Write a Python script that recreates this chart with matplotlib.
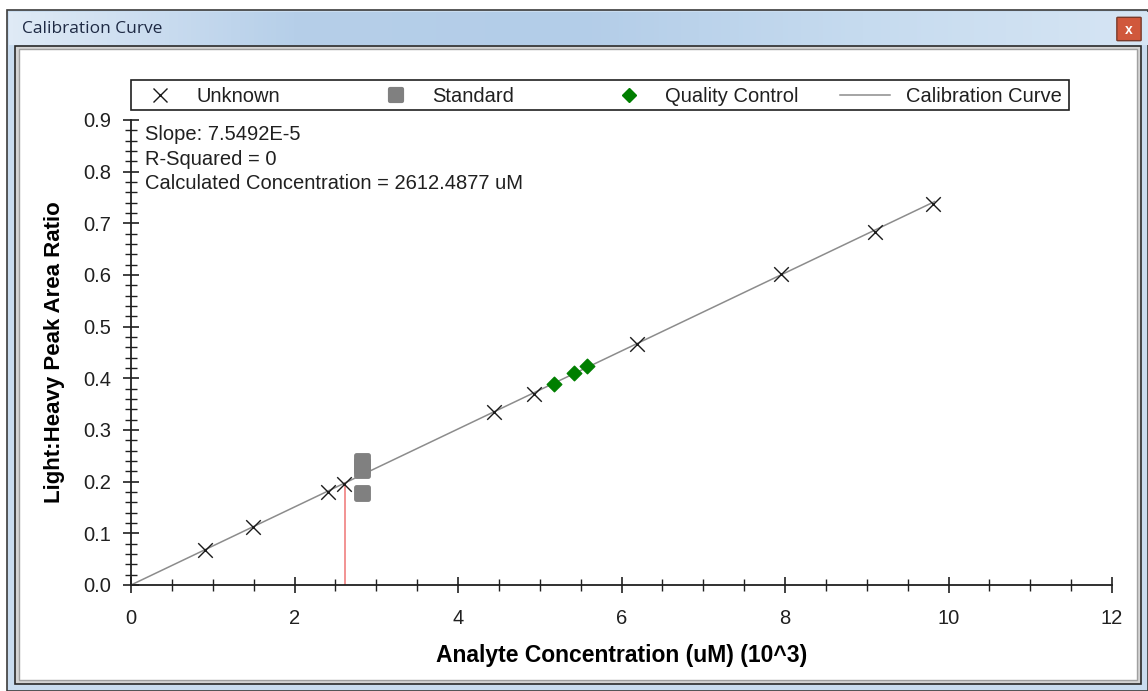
import matplotlib
matplotlib.use("Agg")
import matplotlib.pyplot as plt
import numpy as np
from matplotlib.patches import Rectangle, FancyBboxPatch
from matplotlib.lines import Line2D
from matplotlib.markers import MarkerStyle
from matplotlib.ticker import MultipleLocator
from matplotlib.colors import LinearSegmentedColormap

plt.rcParams['font.family'] = ['Liberation Sans', 'DejaVu Sans']

# ---- data (x in 10^3 uM) ----
unknown_x = [0.905, 1.49, 2.41, 2.61, 4.44, 4.93, 6.19, 7.95, 9.10, 9.81]
unknown_y = [0.068, 0.112, 0.180, 0.196, 0.334, 0.369, 0.466, 0.601, 0.684, 0.738]
standard_x = [2.83, 2.83, 2.83, 2.83]
standard_y = [0.240, 0.230, 0.222, 0.178]
qc_x = [5.17, 5.42, 5.58]
qc_y = [0.390, 0.410, 0.423]
slope = 0.075492          # per 10^3 uM (7.5492E-5 per uM)
curve_x = [0.0, 9.83]
calc_conc = 2.6124877     # 10^3 uM
x_ticks = [0, 2, 4, 6, 8, 10, 12]
y_ticks = [0.0, 0.1, 0.2, 0.3, 0.4, 0.5, 0.6, 0.7, 0.8, 0.9]
legend_labels = ["Unknown", "Standard", "Quality Control", "Calibration Curve"]
info_lines = ["Slope: 7.5492E-5", "R-Squared = 0", "Calculated Concentration = 2612.4877 uM"]

W, H = 1148, 691
fig = plt.figure(figsize=(W / 100, H / 100), dpi=100)

def fx(px):
    return px / W

def fy(py):
    return 1 - py / H

# ---- window chrome ----
fig.patches.append(Rectangle((0, 0), 1, 1, transform=fig.transFigure, color='white', zorder=-10))
fig.patches.append(Rectangle((fx(7), fy(691)), fx(1148 - 7), fy(10) - fy(691), transform=fig.transFigure,
                             facecolor='#c9dcef', edgecolor='#3c3c3c', lw=1.2, zorder=-9))
grad = np.linspace(0, 1, 256).reshape(1, -1)
tb = fig.add_axes([fx(9), fy(45), fx(1139), fy(12) - fy(45)], zorder=-8)
cm = LinearSegmentedColormap.from_list('tb', ['#dfeaf6', '#b6cfe9', '#b3cde8', '#c6dbef', '#d6e5f4'])
tb.imshow(grad, aspect='auto', cmap=cm, extent=[0, 1, 0, 1])
tb.set_axis_off()
fig.text(fx(22), fy(29), "Calibration Curve", fontsize=12.5, family=['Open Sans', 'DejaVu Sans'],
         color='#1e2a44', va='center', ha='left')
fig.patches.append(FancyBboxPatch((fx(1118), fy(40)), fx(22), fy(18) - fy(40),
                                  boxstyle='round,pad=0.001', transform=fig.transFigure,
                                  facecolor='#d0583c', edgecolor='#7a3a2a', lw=1, zorder=5))
fig.text(fx(1129), fy(29.5), "x", fontsize=10, fontweight='bold', color='white',
         ha='center', va='center', zorder=6)
fig.patches.append(Rectangle((fx(15), fy(684)), fx(1126), fy(46) - fy(684), transform=fig.transFigure,
                             facecolor='#d4d4d4', edgecolor='#2a2a2a', lw=1.2, zorder=-7))
fig.patches.append(Rectangle((fx(19), fy(680)), fx(1118), fy(49) - fy(680), transform=fig.transFigure,
                             facecolor='white', edgecolor='#a0a0a0', lw=1, zorder=-6))

# ---- chart ----
ax = fig.add_axes([fx(131), fy(585), fx(1112) - fx(131), fy(120) - fy(585)])
ax.set_facecolor('none')
ax.set_xlim(0, 12)
ax.set_ylim(0, 0.9)

rsq = MarkerStyle('s', joinstyle='round')

cx = np.array(curve_x)
ax.plot(cx, slope * cx, color='#8c8c8c', lw=1.1, zorder=2)
ax.plot([calc_conc, calc_conc], [0, slope * calc_conc], color='#f08080', lw=1.2, zorder=1)
ax.scatter(unknown_x, unknown_y, marker='x', s=110, color='#1a1a1a', linewidths=1.0, zorder=4)
ax.scatter(standard_x, standard_y, marker=rsq, s=80, color='#808080',
           edgecolors='#808080', linewidths=3.5, zorder=3)
ax.scatter(qc_x, qc_y, marker='D', s=55, color='#007f00', zorder=5)

for side in ['top', 'right']:
    ax.spines[side].set_visible(False)
for side in ['left', 'bottom']:
    ax.spines[side].set_color('#202020')
    ax.spines[side].set_linewidth(1.3)

ax.set_xticks(x_ticks)
ax.set_xticklabels([str(v) for v in x_ticks])
ax.set_yticks(y_ticks)
ax.set_yticklabels([f"{v:.1f}" for v in y_ticks])
ax.xaxis.set_minor_locator(MultipleLocator(0.5))
ax.yaxis.set_minor_locator(MultipleLocator(0.02))
ax.tick_params(axis='both', which='major', direction='inout', length=12, width=1.2,
               labelsize=14.5, colors='#202020')
ax.tick_params(axis='both', which='minor', direction='inout', length=8, width=1.0, colors='#202020')
ax.tick_params(axis='x', which='major', pad=11)
ax.tick_params(axis='y', which='major', pad=8)

ax.set_xlabel("Analyte Concentration (uM) (10^3)", fontsize=16.5, fontweight='bold', labelpad=12)
ax.set_ylabel("Light:Heavy Peak Area Ratio", fontsize=16, fontweight='bold', labelpad=13)

for i, t in enumerate(info_lines):
    fig.text(fx(145), fy(135 + i * 24.5), t, fontsize=14.5, color='#202020', va='center', ha='left')

# legend: framed box with four evenly spaced entries
fig.patches.append(Rectangle((fx(131), fy(110)), fx(1069) - fx(131), fy(80) - fy(110),
                             transform=fig.transFigure, facecolor='white', edgecolor='#202020',
                             lw=1.2, zorder=1))
handles = [
    Line2D([], [], marker='x', ls='none', color='#1a1a1a', markersize=10, mew=1.0),
    Line2D([], [], marker=rsq, ls='none', color='#808080', markersize=8, mew=3,
           markeredgecolor='#808080'),
    Line2D([], [], marker='D', ls='none', color='#007f00', markersize=7),
    Line2D([], [], color='#8c8c8c', lw=1.1),
]
entry_px = [140, 376, 609, 840]
for h, lab, px in zip(handles, legend_labels, entry_px):
    lg = fig.legend([h], [lab], loc='center left', bbox_to_anchor=(fx(px), fy(97)),
                    frameon=False, fontsize=14.5, borderaxespad=0, borderpad=0,
                    handlelength=2.0 if lab != "Calibration Curve" else 2.5,
                    handletextpad=0.8, labelcolor='#202020')
    lg.set_zorder(2)

fig.savefig("out.png", dpi=100)
